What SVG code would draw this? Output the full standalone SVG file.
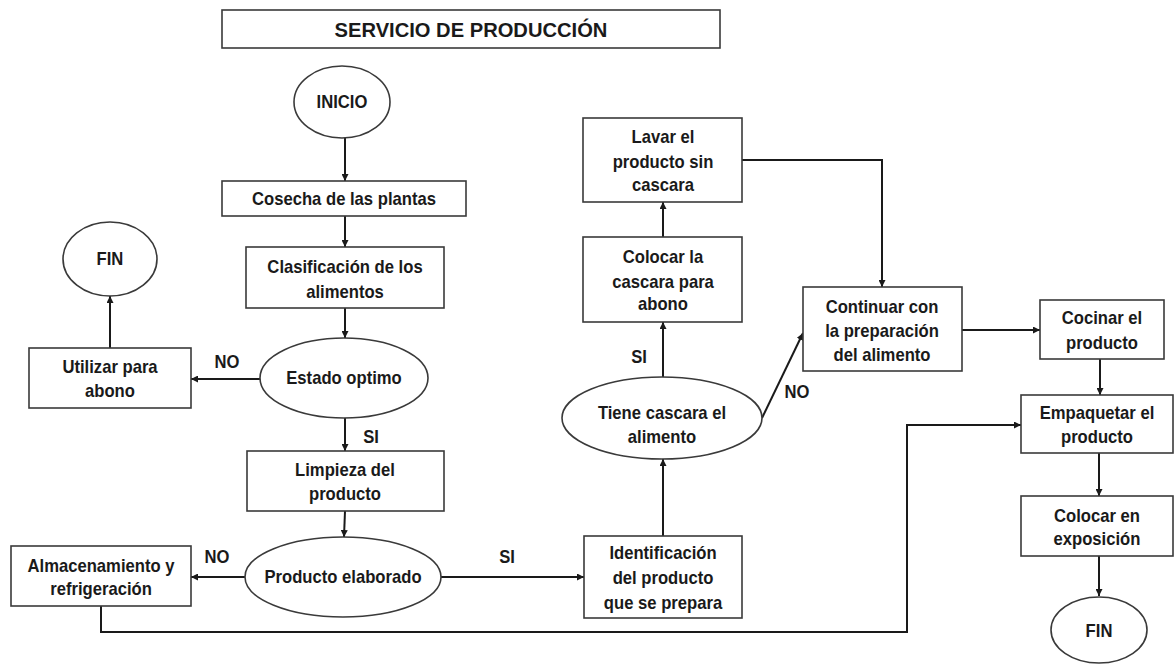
<svg xmlns="http://www.w3.org/2000/svg" width="1176" height="665" viewBox="0 0 1176 665">
<defs>
<style>
.n{fill:#fff;stroke:#3a3a3a;stroke-width:1.6}
.t{font-family:"Liberation Sans",Arial,sans-serif;font-weight:bold;font-size:18.5px;fill:#1a1a1a;text-anchor:middle;transform-box:fill-box;transform-origin:center;transform:scaleX(0.9)}
.h{font-size:21px;transform:scaleX(0.96)}
.c{fill:none;stroke:#1a1a1a;stroke-width:2;marker-end:url(#a)}
</style>
<marker id="a" viewBox="0 0 10 10" refX="10" refY="5" markerWidth="7" markerHeight="7" markerUnits="userSpaceOnUse" orient="auto">
<path d="M0,0 L10,5 L0,10 z" fill="#1a1a1a"/>
</marker>
</defs>
<rect width="1176" height="665" fill="#fff"/>
<g id="connectors">
<path class="c" d="M345,138 L345,181"/>
<path class="c" d="M345,216 L345,247"/>
<path class="c" d="M345,308 L345,338"/>
<path class="c" d="M260,379 L191,379"/>
<path class="c" d="M110,348 L110,296"/>
<path class="c" d="M345,418 L345,451"/>
<path class="c" d="M345,511 L344,537"/>
<path class="c" d="M245,577 L191,577"/>
<path class="c" d="M441,577 L584,577"/>
<path class="c" d="M101,606 L101,632 L907,632 L907,425 L1021,425"/>
<path class="c" d="M663,536 L663,459"/>
<path class="c" d="M663,377 L663,322"/>
<path class="c" d="M663,237 L663,202"/>
<path class="c" d="M762,418 L803,333"/>
<path class="c" d="M742,160 L882,160 L882,287"/>
<path class="c" d="M962,330 L1040,330"/>
<path class="c" d="M1100,359 L1100,395"/>
<path class="c" d="M1099,453 L1099,496"/>
<path class="c" d="M1099,556 L1099,596"/>
<text class="t" x="227" y="368">NO</text>
<text class="t" x="371" y="443">SI</text>
<text class="t" x="217" y="563">NO</text>
<text class="t" x="507" y="563">SI</text>
<text class="t" x="639" y="363">SI</text>
<text class="t" x="797" y="398">NO</text>
</g>
<g id="title"><rect class="n" x="222" y="10" width="498" height="38"/><text class="t h" x="471" y="37">SERVICIO DE PRODUCCIÓN</text></g>
<g id="inicio"><ellipse class="n" cx="342" cy="102" rx="48" ry="36"/><text class="t" x="342" y="108">INICIO</text></g>
<g id="cosecha"><rect class="n" x="222" y="181" width="244" height="35"/><text class="t" x="344" y="205">Cosecha de las plantas</text></g>
<g id="clasificacion"><rect class="n" x="246" y="247" width="198" height="61"/><text class="t" x="345" y="273">Clasificación de los</text><text class="t" x="345" y="298">alimentos</text></g>
<g id="estado"><ellipse class="n" cx="344" cy="378" rx="84" ry="40"/><text class="t" x="344" y="384">Estado optimo</text></g>
<g id="utilizar"><rect class="n" x="29" y="348" width="162" height="60"/><text class="t" x="110" y="373">Utilizar para</text><text class="t" x="110" y="397">abono</text></g>
<g id="fin1"><ellipse class="n" cx="110" cy="259" rx="47" ry="37"/><text class="t" x="110" y="265">FIN</text></g>
<g id="limpieza"><rect class="n" x="247" y="451" width="197" height="60"/><text class="t" x="345" y="476">Limpieza del</text><text class="t" x="345" y="500">producto</text></g>
<g id="elaborado"><ellipse class="n" cx="343" cy="577" rx="98" ry="40"/><text class="t" x="343" y="583">Producto elaborado</text></g>
<g id="almacenamiento"><rect class="n" x="11" y="546" width="180" height="60"/><text class="t" x="101" y="572">Almacenamiento y</text><text class="t" x="101" y="595">refrigeración</text></g>
<g id="identificacion"><rect class="n" x="584" y="536" width="158" height="82"/><text class="t" x="663" y="559">Identificación</text><text class="t" x="663" y="584">del producto</text><text class="t" x="663" y="609">que se prepara</text></g>
<g id="tiene"><ellipse class="n" cx="662" cy="418" rx="100" ry="41"/><text class="t" x="662" y="419">Tiene cascara el</text><text class="t" x="662" y="443">alimento</text></g>
<g id="colocar-cascara"><rect class="n" x="583" y="237" width="159" height="85"/><text class="t" x="663" y="263">Colocar la</text><text class="t" x="663" y="288">cascara para</text><text class="t" x="663" y="310">abono</text></g>
<g id="lavar"><rect class="n" x="583" y="118" width="159" height="84"/><text class="t" x="663" y="143">Lavar el</text><text class="t" x="663" y="168">producto sin</text><text class="t" x="663" y="191">cascara</text></g>
<g id="continuar"><rect class="n" x="803" y="287" width="159" height="84"/><text class="t" x="882" y="313">Continuar con</text><text class="t" x="882" y="337">la preparación</text><text class="t" x="882" y="361">del alimento</text></g>
<g id="cocinar"><rect class="n" x="1040" y="300" width="124" height="59"/><text class="t" x="1102" y="324">Cocinar el</text><text class="t" x="1102" y="349">producto</text></g>
<g id="empaquetar"><rect class="n" x="1021" y="395" width="152" height="58"/><text class="t" x="1097" y="419">Empaquetar el</text><text class="t" x="1097" y="443">producto</text></g>
<g id="exposicion"><rect class="n" x="1021" y="496" width="152" height="60"/><text class="t" x="1097" y="522">Colocar en</text><text class="t" x="1097" y="545">exposición</text></g>
<g id="fin2"><ellipse class="n" cx="1099" cy="630" rx="48" ry="33"/><text class="t" x="1099" y="637">FIN</text></g>
</svg>
